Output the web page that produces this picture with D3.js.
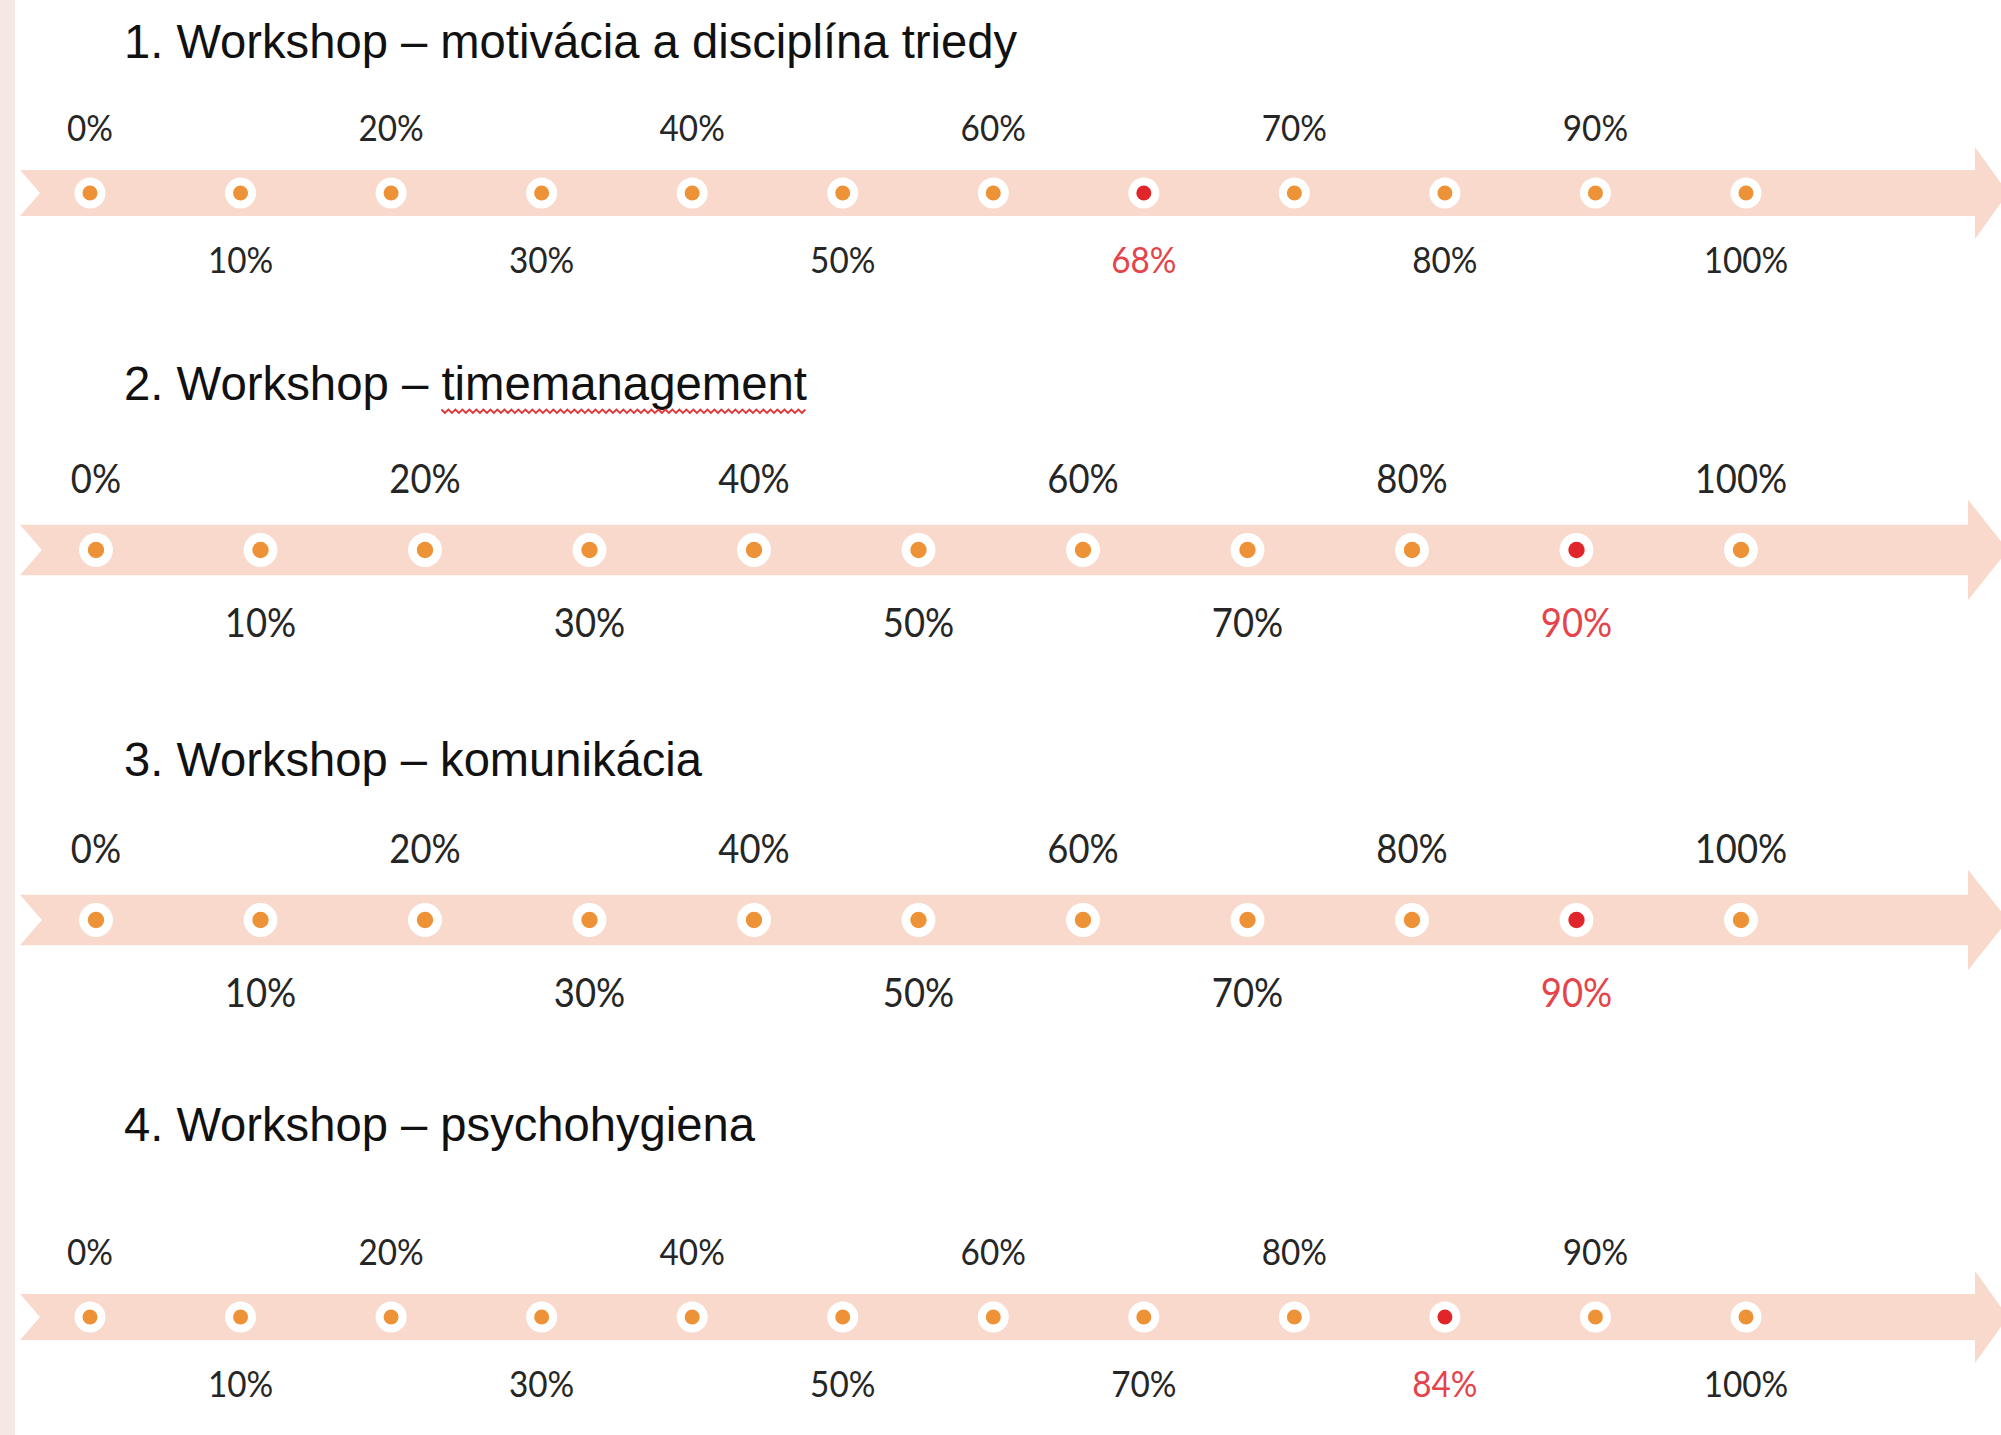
<!DOCTYPE html>
<html>
<head>
<meta charset="utf-8">
<script src="https://cdn.jsdelivr.net/npm/d3@7"></script>
<style>
  body { margin: 0; background: #fff; }
</style>
</head>
<body>
<div id="chart"></div>
<script>
const width = 2001;
const height = 1435;

/**
* DATA
* */
const titles = [
    "1. Workshop – motivácia a disciplína triedy",
    "2. Workshop – timemanagement",
    "3. Workshop – komunikácia",
    "4. Workshop – psychohygiena"
];
// steps on each timeline, in %
const steps1 = [0, 10, 20, 30, 40, 50, 60, 68, 70, 80, 90, 100];
const steps2 = [0, 10, 20, 30, 40, 50, 60, 70, 80, 90, 100];
const steps3 = [0, 10, 20, 30, 40, 50, 60, 70, 80, 90, 100];
const steps4 = [0, 10, 20, 30, 40, 50, 60, 70, 80, 84, 90, 100];
// result of each workshop (highlighted in red)
const results = [68, 90, 90, 84];

/**
* LAYOUT (pixels, not data)
* */
const layout = [
    { titleY: 58,   titleW: 893, dotY: 193,  range: [90, 1746], k: 1,     headX: 1975 },
    { titleY: 400,  titleW: 683, dotY: 550,  range: [96, 1741], k: 1.093, headX: 1968 },
    { titleY: 776,  titleW: 578, dotY: 920,  range: [96, 1741], k: 1.093, headX: 1968 },
    { titleY: 1141, titleW: 631, dotY: 1317, range: [90, 1746], k: 1,     headX: 1975 }
];
const allSteps = [steps1, steps2, steps3, steps4];

const bandColor = "#f8d9cc";
const orange = "#ee9237";
const red = "#e0262a";

const svg = d3.select("#chart")
    .append("svg")
    .attr("width", width)
    .attr("height", height);

// pale strip on the left edge
svg.append("rect")
    .attr("x", 0).attr("y", 0)
    .attr("width", 15).attr("height", height)
    .attr("fill", "#f5e7e1");

allSteps.forEach((steps, i) => {
    const L = layout[i];
    const k = L.k;
    const g = svg.append("g");

    const x = d3.scalePoint()
        .domain(steps)
        .range(L.range);

    // band arrow
    const y0 = L.dotY;
    const hh = 23 * k, ah = 46 * k;
    const band = d3.path();
    band.moveTo(20, y0 - hh);
    band.lineTo(L.headX, y0 - hh);
    band.lineTo(L.headX, y0 - ah);
    band.lineTo(2008, y0);
    band.lineTo(L.headX, y0 + ah);
    band.lineTo(L.headX, y0 + hh);
    band.lineTo(20, y0 + hh);
    band.lineTo(20 + 20 * k, y0);
    band.closePath();
    g.append("path")
        .attr("d", band.toString())
        .attr("fill", bandColor);

    // title
    const title = g.append("text")
        .attr("x", 124)
        .attr("y", L.titleY)
        .attr("font-family", "'Liberation Sans', Arial, sans-serif")
        .attr("font-size", 48)
        .attr("fill", "#111")
        .text(titles[i]);
    const natural = title.node().getComputedTextLength();
    const dashAt = titles[i].indexOf("– ") + 2;
    const pre = title.node().getSubStringLength(0, dashAt);
    title.attr("textLength", L.titleW).attr("lengthAdjust", "spacingAndGlyphs");

    // spell-check squiggle under "timemanagement"
    if (i === 1) {
        const r = L.titleW / natural;
        const sx = 124 + pre * r, ex = 124 + L.titleW;
        const pts = d3.range(sx, ex, 3.5).map((px, j) => [px, L.titleY + 11 + (j % 2 ? 2 : -1.5)]);
        g.append("path")
            .attr("d", d3.line()(pts))
            .attr("fill", "none")
            .attr("stroke", "#e03636")
            .attr("stroke-width", 1.8);
    }

    const result = results[i];

    // dots
    const dots = g.selectAll("g.dot")
        .data(steps)
        .join("g")
        .attr("class", "dot")
        .attr("transform", d => `translate(${x(d)},${y0})`);
    dots.append("circle")
        .attr("r", 15.5 * k)
        .attr("fill", "#fff");
    dots.append("circle")
        .attr("r", 7.5 * k)
        .attr("fill", d => d === result ? red : orange);

    // labels, alternating above / below the band
    g.selectAll("text.lbl")
        .data(steps)
        .join("text")
        .attr("class", "lbl")
        .attr("transform", (d, j) => {
            const ly = j % 2 === 0 ? y0 - 52 * k : y0 + 80 * k;
            return `translate(${x(d)},${ly}) scale(0.9,1)`;
        })
        .attr("text-anchor", "middle")
        .attr("font-family", "Lato, 'Open Sans', sans-serif")
        .attr("font-size", 37 * k)
        .attr("fill", d => d === result ? "#e4444a" : "#262626")
        .text(d => d + "%");
});
</script>
</body>
</html>
